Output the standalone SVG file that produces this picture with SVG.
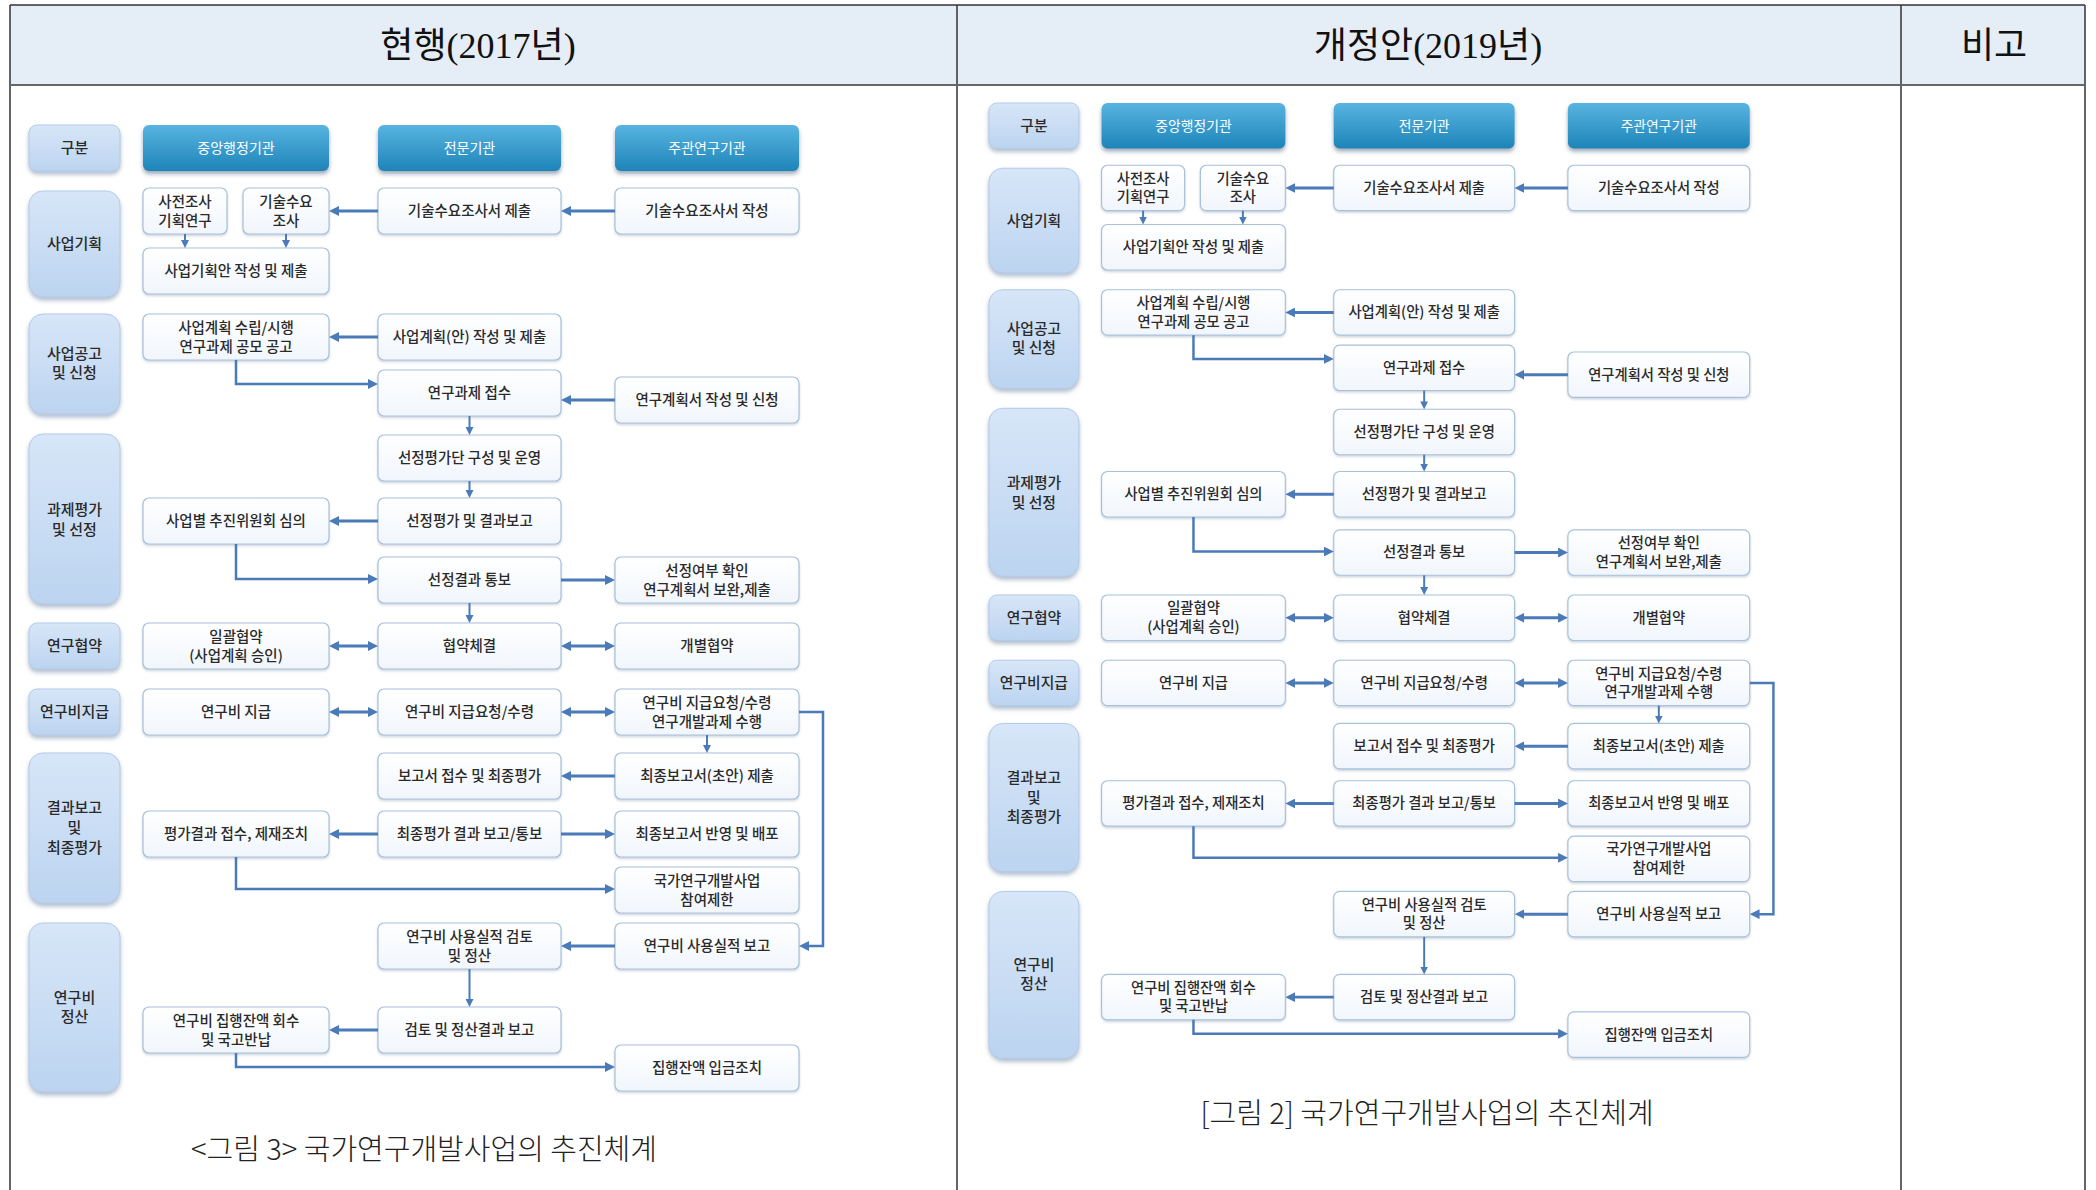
<svg xmlns="http://www.w3.org/2000/svg" width="2096" height="1190" viewBox="0 0 2096 1190">
<defs>
<linearGradient id="gLbl" x1="0" y1="0" x2="0" y2="1"><stop offset="0" stop-color="#d7e6f8"/><stop offset="1" stop-color="#bcd4f0"/></linearGradient>
<linearGradient id="gHdr" x1="0" y1="0" x2="0" y2="1"><stop offset="0" stop-color="#58b4e0"/><stop offset="1" stop-color="#1e84b9"/></linearGradient>
<linearGradient id="gNd" x1="0" y1="0" x2="0" y2="1"><stop offset="0" stop-color="#ffffff"/><stop offset="1" stop-color="#f1f6fc"/></linearGradient>
<filter id="shL" x="-10%" y="-10%" width="120%" height="130%"><feDropShadow dx="0" dy="3" stdDeviation="2" flood-color="#6f88a8" flood-opacity="0.55"/></filter>
<filter id="shH" x="-10%" y="-10%" width="120%" height="140%"><feDropShadow dx="0" dy="3" stdDeviation="2" flood-color="#5b7088" flood-opacity="0.6"/></filter>
<filter id="shN" x="-10%" y="-10%" width="120%" height="140%"><feDropShadow dx="0" dy="1.5" stdDeviation="1.2" flood-color="#9aa8ba" flood-opacity="0.5"/></filter>
<marker id="ah" markerUnits="userSpaceOnUse" markerWidth="10" markerHeight="10" refX="6" refY="5" orient="auto-start-reverse"><path d="M0,0 L10,5 L0,10 z" fill="#4a7ab8"/></marker>
<marker id="ahs" markerUnits="userSpaceOnUse" markerWidth="8" markerHeight="8" refX="5" refY="4" orient="auto"><path d="M0,0 L8,4 L0,8 z" fill="#4a7ab8"/></marker>
<style>
text{font-family:"Noto Sans CJK KR","Noto Sans",sans-serif;text-anchor:middle}
.lb rect{fill:url(#gLbl);stroke:#b3cbe8;stroke-width:1;filter:url(#shL)}
.hd rect{fill:url(#gHdr);filter:url(#shH)}
.nd rect{fill:url(#gNd);stroke:#a9c2dc;stroke-width:1.2;filter:url(#shN)}
.nd text{font-size:14.5px;font-weight:500;fill:#2a2a2a}
.lb text{font-size:15px;font-weight:500;fill:#2a2a2a}
.hd text{font-size:14px;fill:#ffffff}
.cn path{fill:none;stroke:#4a7ab8}
.cn .tk{stroke-width:3;marker-end:url(#ah)}
.cn .db{stroke-width:3;marker-start:url(#ah);marker-end:url(#ah)}
.cn .el{stroke-width:2.5;marker-end:url(#ah)}
.cn .tn{stroke-width:2;marker-end:url(#ahs)}
.ttl{font-family:"Liberation Serif","Noto Sans CJK KR",serif;font-size:36px;fill:#111}
.cap{font-size:29px;font-weight:300;fill:#222}
.tb{stroke:#333;stroke-width:1.5;fill:none}
</style>
</defs>

<g id="table">
<rect x="10" y="5" width="2075" height="80" fill="#e5edf7"/>
<path class="tb" d="M10,5 H2085 M10,5 V1190 M2085,5 V1190 M957,5 V1190 M1901,5 V1190"/>
<path d="M10,85 H2085" stroke="#666" stroke-width="2"/>
<text class="ttl" x="478" y="58">현행(2017년)</text>
<text class="ttl" x="1428" y="58">개정안(2019년)</text>
<text class="ttl" x="1994" y="58">비고</text>
</g>

<g id="left">
<g id="L-lbl-gubun" class="lb"><rect x="29" y="125" width="91" height="46" rx="8"/><text x="74.5" y="153">구분</text></g>
<g id="L-lbl-1" class="lb"><rect x="29" y="191" width="91" height="106" rx="14"/><text x="74.5" y="249">사업기획</text></g>
<g id="L-lbl-2" class="lb"><rect x="29" y="314" width="91" height="100" rx="14"/><text x="74.5" y="359">사업공고</text><text x="74.5" y="378">및 신청</text></g>
<g id="L-lbl-3" class="lb"><rect x="29" y="434" width="91" height="170" rx="14"/><text x="74.5" y="515">과제평가</text><text x="74.5" y="535">및 선정</text></g>
<g id="L-lbl-4" class="lb"><rect x="29" y="623" width="91" height="46" rx="8"/><text x="74.5" y="651">연구협약</text></g>
<g id="L-lbl-5" class="lb"><rect x="29" y="689" width="91" height="46" rx="8"/><text x="74.5" y="717">연구비지급</text></g>
<g id="L-lbl-6" class="lb"><rect x="29" y="753" width="91" height="150" rx="14"/><text x="74.5" y="813">결과보고</text><text x="74.5" y="833">및</text><text x="74.5" y="853">최종평가</text></g>
<g id="L-lbl-7" class="lb"><rect x="29" y="923" width="91" height="169" rx="14"/><text x="74.5" y="1003">연구비</text><text x="74.5" y="1022">정산</text></g>

<g id="L-hd-a" class="hd"><rect x="143" y="125" width="186" height="46" rx="6"/><text x="236" y="153">중앙행정기관</text></g>
<g id="L-hd-b" class="hd"><rect x="378" y="125" width="183" height="46" rx="6"/><text x="469.5" y="153">전문기관</text></g>
<g id="L-hd-c" class="hd"><rect x="615" y="125" width="184" height="46" rx="6"/><text x="707" y="153">주관연구기관</text></g>

<g id="L-n1" class="nd"><rect x="143" y="188" width="84" height="46" rx="6"/><text x="185" y="206.5">사전조사</text><text x="185" y="225.5">기획연구</text></g>
<g id="L-n2" class="nd"><rect x="243" y="188" width="86" height="46" rx="6"/><text x="286" y="206.5">기술수요</text><text x="286" y="225.5">조사</text></g>
<g id="L-n3" class="nd"><rect x="378" y="188" width="183" height="46" rx="6"/><text x="469.5" y="216">기술수요조사서 제출</text></g>
<g id="L-n4" class="nd"><rect x="615" y="188" width="184" height="46" rx="6"/><text x="707" y="216">기술수요조사서 작성</text></g>
<g id="L-n5" class="nd"><rect x="143" y="248" width="186" height="46" rx="6"/><text x="236" y="276">사업기획안 작성 및 제출</text></g>
<g id="L-n6" class="nd"><rect x="143" y="314" width="186" height="46" rx="6"/><text x="236" y="332.5">사업계획 수립/시행</text><text x="236" y="351.5">연구과제 공모 공고</text></g>
<g id="L-n7" class="nd"><rect x="378" y="314" width="183" height="46" rx="6"/><text x="469.5" y="342">사업계획(안) 작성 및 제출</text></g>
<g id="L-n8" class="nd"><rect x="378" y="370" width="183" height="46" rx="6"/><text x="469.5" y="398">연구과제 접수</text></g>
<g id="L-n9" class="nd"><rect x="615" y="377" width="184" height="46" rx="6"/><text x="707" y="405">연구계획서 작성 및 신청</text></g>
<g id="L-n10" class="nd"><rect x="378" y="435" width="183" height="46" rx="6"/><text x="469.5" y="463">선정평가단 구성 및 운영</text></g>
<g id="L-n11" class="nd"><rect x="143" y="498" width="186" height="46" rx="6"/><text x="236" y="526">사업별 추진위원회 심의</text></g>
<g id="L-n12" class="nd"><rect x="378" y="498" width="183" height="46" rx="6"/><text x="469.5" y="526">선정평가 및 결과보고</text></g>
<g id="L-n13" class="nd"><rect x="378" y="557" width="183" height="46" rx="6"/><text x="469.5" y="585">선정결과 통보</text></g>
<g id="L-n14" class="nd"><rect x="615" y="557" width="184" height="46" rx="6"/><text x="707" y="575.5">선정여부 확인</text><text x="707" y="594.5">연구계획서 보완,제출</text></g>
<g id="L-n15" class="nd"><rect x="143" y="623" width="186" height="46" rx="6"/><text x="236" y="641.5">일괄협약</text><text x="236" y="660.5">(사업계획 승인)</text></g>
<g id="L-n16" class="nd"><rect x="378" y="623" width="183" height="46" rx="6"/><text x="469.5" y="651">협약체결</text></g>
<g id="L-n17" class="nd"><rect x="615" y="623" width="184" height="46" rx="6"/><text x="707" y="651">개별협약</text></g>
<g id="L-n18" class="nd"><rect x="143" y="689" width="186" height="46" rx="6"/><text x="236" y="717">연구비 지급</text></g>
<g id="L-n19" class="nd"><rect x="378" y="689" width="183" height="46" rx="6"/><text x="469.5" y="717">연구비 지급요청/수령</text></g>
<g id="L-n20" class="nd"><rect x="615" y="689" width="184" height="46" rx="6"/><text x="707" y="707.5">연구비 지급요청/수령</text><text x="707" y="726.5">연구개발과제 수행</text></g>
<g id="L-n21" class="nd"><rect x="378" y="753" width="183" height="46" rx="6"/><text x="469.5" y="781">보고서 접수 및 최종평가</text></g>
<g id="L-n22" class="nd"><rect x="615" y="753" width="184" height="46" rx="6"/><text x="707" y="781">최종보고서(초안) 제출</text></g>
<g id="L-n23" class="nd"><rect x="143" y="811" width="186" height="46" rx="6"/><text x="236" y="839">평가결과 접수, 제재조치</text></g>
<g id="L-n24" class="nd"><rect x="378" y="811" width="183" height="46" rx="6"/><text x="469.5" y="839">최종평가 결과 보고/통보</text></g>
<g id="L-n25" class="nd"><rect x="615" y="811" width="184" height="46" rx="6"/><text x="707" y="839">최종보고서 반영 및 배포</text></g>
<g id="L-n26" class="nd"><rect x="615" y="867" width="184" height="46" rx="6"/><text x="707" y="885.5">국가연구개발사업</text><text x="707" y="904.5">참여제한</text></g>
<g id="L-n27" class="nd"><rect x="378" y="923" width="183" height="46" rx="6"/><text x="469.5" y="941.5">연구비 사용실적 검토</text><text x="469.5" y="960.5">및 정산</text></g>
<g id="L-n28" class="nd"><rect x="615" y="923" width="184" height="46" rx="6"/><text x="707" y="951">연구비 사용실적 보고</text></g>
<g id="L-n29" class="nd"><rect x="143" y="1007" width="186" height="46" rx="6"/><text x="236" y="1025.5">연구비 집행잔액 회수</text><text x="236" y="1044.5">및 국고반납</text></g>
<g id="L-n30" class="nd"><rect x="378" y="1007" width="183" height="46" rx="6"/><text x="469.5" y="1035">검토 및 정산결과 보고</text></g>
<g id="L-n31" class="nd"><rect x="615" y="1045" width="184" height="46" rx="6"/><text x="707" y="1073">집행잔액 입금조치</text></g>

<g id="L-connectors" class="cn">
<path class="tk" d="M615,211 H565"/>
<path class="tk" d="M378,211 H333"/>
<path class="tn" d="M185,234 V245"/>
<path class="tn" d="M286,234 V245"/>
<path class="tk" d="M378,337 H333"/>
<path class="el" d="M236,360 V384 H374"/>
<path class="tk" d="M615,400 H565"/>
<path class="tn" d="M469.5,416 V432"/>
<path class="tn" d="M469.5,481 V495"/>
<path class="tk" d="M378,521 H333"/>
<path class="el" d="M236,544 V579 H374"/>
<path class="tk" d="M561,580 H611"/>
<path class="tn" d="M469.5,603 V620"/>
<path class="db" d="M333,646 H374"/>
<path class="db" d="M565,646 H611"/>
<path class="db" d="M333,712 H374"/>
<path class="db" d="M565,712 H611"/>
<path class="tn" d="M707,735 V750"/>
<path class="el" d="M799,712 H823 V946 H803"/>
<path class="tk" d="M615,776 H565"/>
<path class="tk" d="M378,834 H333"/>
<path class="tk" d="M561,834 H611"/>
<path class="el" d="M236,857 V889 H611"/>
<path class="tk" d="M615,946 H565"/>
<path class="tn" d="M469.5,969 V1004"/>
<path class="tk" d="M378,1030 H333"/>
<path class="el" d="M236,1053 V1067 H611"/>
</g>
</g>

<text class="cap" x="424" y="1160">&lt;그림 3&gt; 국가연구개발사업의 추진체계</text>

<g id="right" transform="translate(960.3,-20.5) scale(0.988)">
<g id="R-lbl-gubun" class="lb"><rect x="29" y="125" width="91" height="46" rx="8"/><text x="74.5" y="153">구분</text></g>
<g id="R-lbl-1" class="lb"><rect x="29" y="191" width="91" height="106" rx="14"/><text x="74.5" y="249">사업기획</text></g>
<g id="R-lbl-2" class="lb"><rect x="29" y="314" width="91" height="100" rx="14"/><text x="74.5" y="359">사업공고</text><text x="74.5" y="378">및 신청</text></g>
<g id="R-lbl-3" class="lb"><rect x="29" y="434" width="91" height="170" rx="14"/><text x="74.5" y="515">과제평가</text><text x="74.5" y="535">및 선정</text></g>
<g id="R-lbl-4" class="lb"><rect x="29" y="623" width="91" height="46" rx="8"/><text x="74.5" y="651">연구협약</text></g>
<g id="R-lbl-5" class="lb"><rect x="29" y="689" width="91" height="46" rx="8"/><text x="74.5" y="717">연구비지급</text></g>
<g id="R-lbl-6" class="lb"><rect x="29" y="753" width="91" height="150" rx="14"/><text x="74.5" y="813">결과보고</text><text x="74.5" y="833">및</text><text x="74.5" y="853">최종평가</text></g>
<g id="R-lbl-7" class="lb"><rect x="29" y="923" width="91" height="169" rx="14"/><text x="74.5" y="1003">연구비</text><text x="74.5" y="1022">정산</text></g>

<g id="R-hd-a" class="hd"><rect x="143" y="125" width="186" height="46" rx="6"/><text x="236" y="153">중앙행정기관</text></g>
<g id="R-hd-b" class="hd"><rect x="378" y="125" width="183" height="46" rx="6"/><text x="469.5" y="153">전문기관</text></g>
<g id="R-hd-c" class="hd"><rect x="615" y="125" width="184" height="46" rx="6"/><text x="707" y="153">주관연구기관</text></g>

<g id="R-n1" class="nd"><rect x="143" y="188" width="84" height="46" rx="6"/><text x="185" y="206.5">사전조사</text><text x="185" y="225.5">기획연구</text></g>
<g id="R-n2" class="nd"><rect x="243" y="188" width="86" height="46" rx="6"/><text x="286" y="206.5">기술수요</text><text x="286" y="225.5">조사</text></g>
<g id="R-n3" class="nd"><rect x="378" y="188" width="183" height="46" rx="6"/><text x="469.5" y="216">기술수요조사서 제출</text></g>
<g id="R-n4" class="nd"><rect x="615" y="188" width="184" height="46" rx="6"/><text x="707" y="216">기술수요조사서 작성</text></g>
<g id="R-n5" class="nd"><rect x="143" y="248" width="186" height="46" rx="6"/><text x="236" y="276">사업기획안 작성 및 제출</text></g>
<g id="R-n6" class="nd"><rect x="143" y="314" width="186" height="46" rx="6"/><text x="236" y="332.5">사업계획 수립/시행</text><text x="236" y="351.5">연구과제 공모 공고</text></g>
<g id="R-n7" class="nd"><rect x="378" y="314" width="183" height="46" rx="6"/><text x="469.5" y="342">사업계획(안) 작성 및 제출</text></g>
<g id="R-n8" class="nd"><rect x="378" y="370" width="183" height="46" rx="6"/><text x="469.5" y="398">연구과제 접수</text></g>
<g id="R-n9" class="nd"><rect x="615" y="377" width="184" height="46" rx="6"/><text x="707" y="405">연구계획서 작성 및 신청</text></g>
<g id="R-n10" class="nd"><rect x="378" y="435" width="183" height="46" rx="6"/><text x="469.5" y="463">선정평가단 구성 및 운영</text></g>
<g id="R-n11" class="nd"><rect x="143" y="498" width="186" height="46" rx="6"/><text x="236" y="526">사업별 추진위원회 심의</text></g>
<g id="R-n12" class="nd"><rect x="378" y="498" width="183" height="46" rx="6"/><text x="469.5" y="526">선정평가 및 결과보고</text></g>
<g id="R-n13" class="nd"><rect x="378" y="557" width="183" height="46" rx="6"/><text x="469.5" y="585">선정결과 통보</text></g>
<g id="R-n14" class="nd"><rect x="615" y="557" width="184" height="46" rx="6"/><text x="707" y="575.5">선정여부 확인</text><text x="707" y="594.5">연구계획서 보완,제출</text></g>
<g id="R-n15" class="nd"><rect x="143" y="623" width="186" height="46" rx="6"/><text x="236" y="641.5">일괄협약</text><text x="236" y="660.5">(사업계획 승인)</text></g>
<g id="R-n16" class="nd"><rect x="378" y="623" width="183" height="46" rx="6"/><text x="469.5" y="651">협약체결</text></g>
<g id="R-n17" class="nd"><rect x="615" y="623" width="184" height="46" rx="6"/><text x="707" y="651">개별협약</text></g>
<g id="R-n18" class="nd"><rect x="143" y="689" width="186" height="46" rx="6"/><text x="236" y="717">연구비 지급</text></g>
<g id="R-n19" class="nd"><rect x="378" y="689" width="183" height="46" rx="6"/><text x="469.5" y="717">연구비 지급요청/수령</text></g>
<g id="R-n20" class="nd"><rect x="615" y="689" width="184" height="46" rx="6"/><text x="707" y="707.5">연구비 지급요청/수령</text><text x="707" y="726.5">연구개발과제 수행</text></g>
<g id="R-n21" class="nd"><rect x="378" y="753" width="183" height="46" rx="6"/><text x="469.5" y="781">보고서 접수 및 최종평가</text></g>
<g id="R-n22" class="nd"><rect x="615" y="753" width="184" height="46" rx="6"/><text x="707" y="781">최종보고서(초안) 제출</text></g>
<g id="R-n23" class="nd"><rect x="143" y="811" width="186" height="46" rx="6"/><text x="236" y="839">평가결과 접수, 제재조치</text></g>
<g id="R-n24" class="nd"><rect x="378" y="811" width="183" height="46" rx="6"/><text x="469.5" y="839">최종평가 결과 보고/통보</text></g>
<g id="R-n25" class="nd"><rect x="615" y="811" width="184" height="46" rx="6"/><text x="707" y="839">최종보고서 반영 및 배포</text></g>
<g id="R-n26" class="nd"><rect x="615" y="867" width="184" height="46" rx="6"/><text x="707" y="885.5">국가연구개발사업</text><text x="707" y="904.5">참여제한</text></g>
<g id="R-n27" class="nd"><rect x="378" y="923" width="183" height="46" rx="6"/><text x="469.5" y="941.5">연구비 사용실적 검토</text><text x="469.5" y="960.5">및 정산</text></g>
<g id="R-n28" class="nd"><rect x="615" y="923" width="184" height="46" rx="6"/><text x="707" y="951">연구비 사용실적 보고</text></g>
<g id="R-n29" class="nd"><rect x="143" y="1007" width="186" height="46" rx="6"/><text x="236" y="1025.5">연구비 집행잔액 회수</text><text x="236" y="1044.5">및 국고반납</text></g>
<g id="R-n30" class="nd"><rect x="378" y="1007" width="183" height="46" rx="6"/><text x="469.5" y="1035">검토 및 정산결과 보고</text></g>
<g id="R-n31" class="nd"><rect x="615" y="1045" width="184" height="46" rx="6"/><text x="707" y="1073">집행잔액 입금조치</text></g>

<g id="R-connectors" class="cn">
<path class="tk" d="M615,211 H565"/>
<path class="tk" d="M378,211 H333"/>
<path class="tn" d="M185,234 V245"/>
<path class="tn" d="M286,234 V245"/>
<path class="tk" d="M378,337 H333"/>
<path class="el" d="M236,360 V384 H374"/>
<path class="tk" d="M615,400 H565"/>
<path class="tn" d="M469.5,416 V432"/>
<path class="tn" d="M469.5,481 V495"/>
<path class="tk" d="M378,521 H333"/>
<path class="el" d="M236,544 V579 H374"/>
<path class="tk" d="M561,580 H611"/>
<path class="tn" d="M469.5,603 V620"/>
<path class="db" d="M333,646 H374"/>
<path class="db" d="M565,646 H611"/>
<path class="db" d="M333,712 H374"/>
<path class="db" d="M565,712 H611"/>
<path class="tn" d="M707,735 V750"/>
<path class="el" d="M799,712 H823 V946 H803"/>
<path class="tk" d="M615,776 H565"/>
<path class="tk" d="M378,834 H333"/>
<path class="tk" d="M561,834 H611"/>
<path class="el" d="M236,857 V889 H611"/>
<path class="tk" d="M615,946 H565"/>
<path class="tn" d="M469.5,969 V1004"/>
<path class="tk" d="M378,1030 H333"/>
<path class="el" d="M236,1053 V1067 H611"/>
</g>
</g>

<text class="cap" x="1427" y="1124">[그림 2] 국가연구개발사업의 추진체계</text>
</svg>
